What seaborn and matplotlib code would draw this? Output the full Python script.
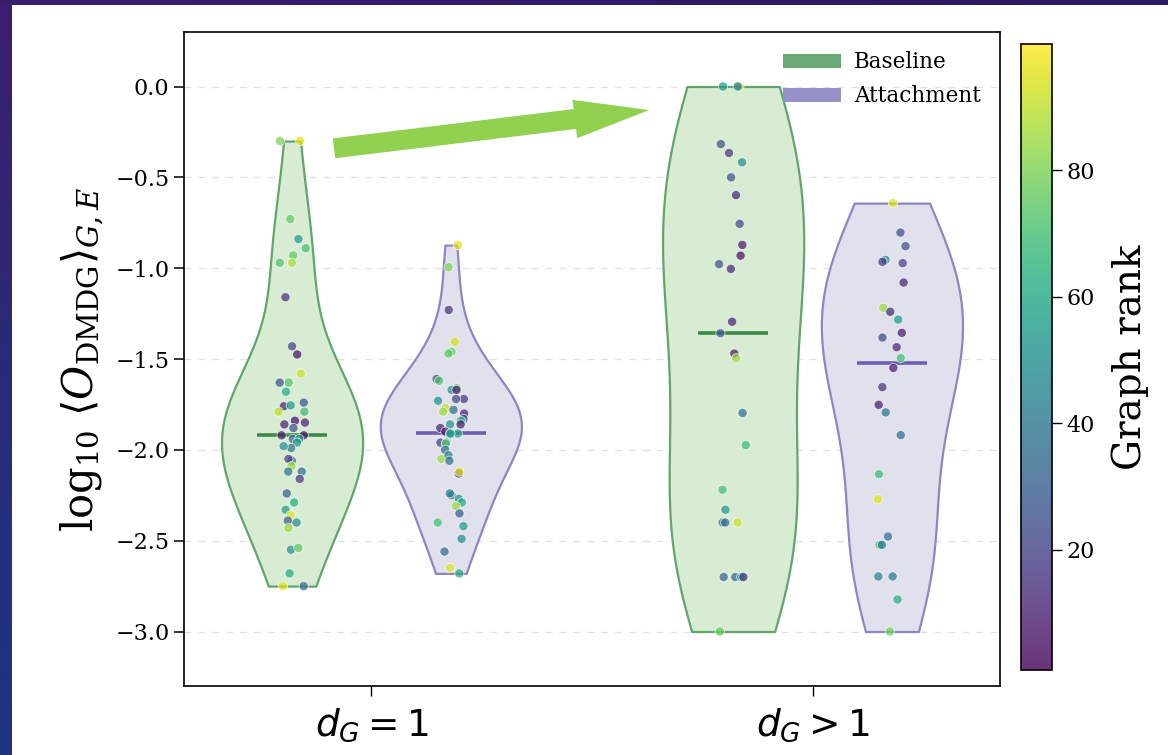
import numpy as np
import pandas as pd
import matplotlib
matplotlib.use("Agg")
import matplotlib.pyplot as plt
import seaborn as sns
from matplotlib.patches import FancyArrow, Patch
from matplotlib.colors import Normalize, LinearSegmentedColormap
from matplotlib.cm import ScalarMappable

# ---------------------------------------------------------------- data
groups = [r"$d_G = 1$", r"$d_G > 1$"]
methods = ["Baseline", "Attachment"]

# d_G = 1, Baseline
g1_base_val = [-0.30, -0.30, -0.73, -0.84, -0.89, -0.93, -0.97, -0.97, -1.16, -1.43,
               -1.475, -1.58, -1.63, -1.63, -1.68, -1.74, -1.76, -1.755, -1.79, -1.79,
               -1.84, -1.85, -1.86, -1.88, -1.92, -1.92, -1.94, -1.94, -1.96, -1.99,
               -1.98, -2.06, -2.05, -2.09, -2.12, -2.12, -2.16, -2.24, -2.29, -2.33,
               -2.36, -2.39, -2.40, -2.43, -2.55, -2.54, -2.68, -2.75, -2.75]
g1_base_rank = [80, 95, 75, 55, 70, 75, 88, 72, 15, 20,
                5, 92, 72, 25, 62, 25, 12, 55, 68, 90,
                5, 10, 10, 25, 5, 8, 35, 50, 55, 38,
                50, 35, 20, 85, 38, 38, 15, 30, 62, 58,
                95, 30, 50, 85, 50, 75, 60, 35, 95]

# d_G = 1, Attachment
g1_att_val = [-0.873, -0.995, -1.23, -1.405, -1.46, -1.47, -1.61, -1.62, -1.66, -1.67,
              -1.67, -1.72, -1.72, -1.73, -1.77, -1.78, -1.79, -1.80, -1.83, -1.84,
              -1.86, -1.86, -1.88, -1.90, -1.915, -1.91, -1.91, -1.96, -1.96, -1.965,
              -2.00, -2.05, -2.03, -2.06, -2.13, -2.12, -2.25, -2.24, -2.27, -2.29,
              -2.31, -2.35, -2.42, -2.40, -2.49, -2.56, -2.65, -2.68]
g1_att_rank = [95, 80, 15, 92, 75, 75, 25, 72, 75, 55,
               8, 15, 22, 50, 90, 35, 85, 10, 25, 65,
               50, 10, 10, 5, 55, 60, 55, 18, 35, 75,
               35, 85, 45, 38, 12, 95, 38, 45, 50, 62,
               85, 30, 55, 70, 50, 35, 95, 60]

# d_G > 1, Baseline
g2_base_val = [0.0, 0.0, 0.0, -0.317, -0.366, -0.417, -0.50, -0.598, -0.756, -0.872,
               -0.931, -0.978, -1.004, -1.295, -1.358, -1.47, -1.496, -1.797, -1.974, -2.22,
               -2.33, -2.40, -2.40, -2.40, -2.70, -2.70, -2.70, -2.70, -3.0]
g2_base_rank = [88, 55, 40, 25, 15, 50, 25, 10, 22, 8,
                5, 25, 12, 10, 30, 8, 85, 38, 68, 70,
                55, 92, 38, 38, 35, 33, 62, 15, 75]

# d_G > 1, Attachment
g2_att_val = [-0.642, -0.804, -0.879, -0.954, -0.965, -0.972, -1.079, -1.218, -1.24, -1.283,
              -1.356, -1.382, -1.435, -1.495, -1.549, -1.655, -1.752, -1.794, -1.919, -2.134,
              -2.272, -2.477, -2.523, -2.523, -2.697, -2.697, -2.824, -3.0]
g2_att_rank = [95, 25, 25, 50, 15, 20, 10, 85, 12, 55,
               8, 22, 12, 70, 8, 15, 8, 38, 35, 68,
               95, 38, 70, 38, 45, 40, 62, 78]

series = {
    (0, "Baseline"): (g1_base_val, g1_base_rank),
    (0, "Attachment"): (g1_att_val, g1_att_rank),
    (1, "Baseline"): (g2_base_val, g2_base_rank),
    (1, "Attachment"): (g2_att_val, g2_att_rank),
}

# ---------------------------------------------------------------- style
offset = {"Baseline": -0.18, "Attachment": 0.18}
fill_c = {"Baseline": "#d8ecd3", "Attachment": "#e1e1ee"}
edge_c = {"Baseline": "#62a56c", "Attachment": "#8d86c4"}
med_c = {"Baseline": "#3c8a47", "Attachment": "#6a60b0"}
legend_c = {"Baseline": "#6aa876", "Attachment": "#9891c9"}
rank_norm = (1, 100)

plt.rcParams["font.family"] = ["DejaVu Serif"]
plt.rcParams["mathtext.fontset"] = "dejavuserif"
plt.rcParams["axes.unicode_minus"] = True

frames = []
for (gi, m), (vals, ranks) in series.items():
    frames.append(pd.DataFrame({
        "group": gi,
        "method": m,
        "pos": gi + offset[m],
        "value": vals,
        "rank": ranks,
    }))
df = pd.concat(frames, ignore_index=True)

fig = plt.figure(figsize=(11.68, 7.55), dpi=100, facecolor="white")

# dark slide border along the left and top edges
bg = fig.add_axes([0, 0, 1, 1], zorder=-5)
bg.axis("off")
left_cmap = LinearSegmentedColormap.from_list("left", ["#3d1f70", "#2a2a7a", "#1d3585"])
top_cmap = LinearSegmentedColormap.from_list("top", ["#3a1e6e", "#321b68", "#2a1860"])
bg.imshow(np.linspace(0, 1, 256).reshape(-1, 1), cmap=left_cmap,
          extent=[0, 12, 755, 0], aspect="auto")
bg.imshow(np.linspace(0, 1, 256).reshape(1, -1), cmap=top_cmap,
          extent=[0, 1168, 5, 0], aspect="auto")
bg.set_xlim(0, 1168)
bg.set_ylim(755, 0)

ax = fig.add_axes([184 / 1168, 1 - 686 / 755, 816 / 1168, 654 / 755])

# violins, one call per method so each keeps its own colours
for m in methods:
    sub = df[df["method"] == m]
    sns.violinplot(data=sub, x="pos", y="value", native_scale=True, orient="x",
                   cut=0, density_norm="width", inner=None, width=0.32,
                   bw_adjust=1.2, color=fill_c[m], linecolor=edge_c[m],
                   linewidth=1.6, saturation=1, ax=ax)

# median bars
for (gi, m), sub in df.groupby(["group", "method"]):
    p = gi + offset[m]
    ax.hlines(sub["value"].median(), p - 0.08, p + 0.08,
              color=med_c[m], lw=2.6, zorder=3)

# individual graphs coloured by rank
np.random.seed(7)
sns.stripplot(data=df, x="pos", y="value", hue="rank", palette="viridis",
              hue_norm=rank_norm, native_scale=True, orient="x", jitter=0.09,
              size=6.6, alpha=0.72, edgecolor="white", linewidth=0.6,
              legend=False, ax=ax, zorder=4)

ax.set_xlim(-0.425, 1.425)
ax.set_ylim(-3.3, 0.3)
ax.set_yticks(np.arange(-3.0, 0.01, 0.5))
ax.set_xticks([0, 1])
ax.set_xticklabels(groups, fontsize=27)
for t in ax.get_xticklabels():
    t.set_math_fontfamily("dejavusans")
ax.tick_params(axis="y", labelsize=16, length=7, width=1.1)
ax.tick_params(axis="x", length=7, width=1.0, pad=8)
ax.set_xlabel("")
ax.set_ylabel(r"$\log_{10}\,\langle O_{\mathrm{DMDG}}\rangle_{G,E}$", fontsize=30,
              labelpad=6)
ax.yaxis.grid(True, linestyle=(0, (5, 5)), color="#e2e2e2", lw=1.0)
ax.set_axisbelow(True)
for s in ax.spines.values():
    s.set_linewidth(1.2)
    s.set_color("black")

handles = [Patch(facecolor=legend_c[m], edgecolor="none", label=m) for m in methods]
ax.legend(handles=handles, loc="upper right", frameon=False, fontsize=15.5,
          handlelength=2.7, handleheight=0.62, handletextpad=0.6, labelspacing=0.55)

# colour bar for graph rank
cax = fig.add_axes([1021 / 1168, 1 - 670 / 755, 31 / 1168, 626 / 755])
sm = ScalarMappable(norm=Normalize(*rank_norm), cmap="viridis")
cb = fig.colorbar(sm, cax=cax, alpha=0.8)
cb.set_ticks([20, 40, 60, 80])
cb.ax.tick_params(labelsize=16, length=7, width=1)
cb.outline.set_linewidth(1.2)
cb.set_label("Graph rank", fontsize=28, labelpad=12)

# arrow from the d_G = 1 baseline towards the d_G > 1 baseline
fig.add_artist(FancyArrow(3.34, 6.067, 3.153, 0.383, width=0.20, head_width=0.385,
                          head_length=0.75, length_includes_head=True,
                          color="#92d050", lw=0, transform=fig.dpi_scale_trans))

fig.savefig("out.png", dpi=100)
